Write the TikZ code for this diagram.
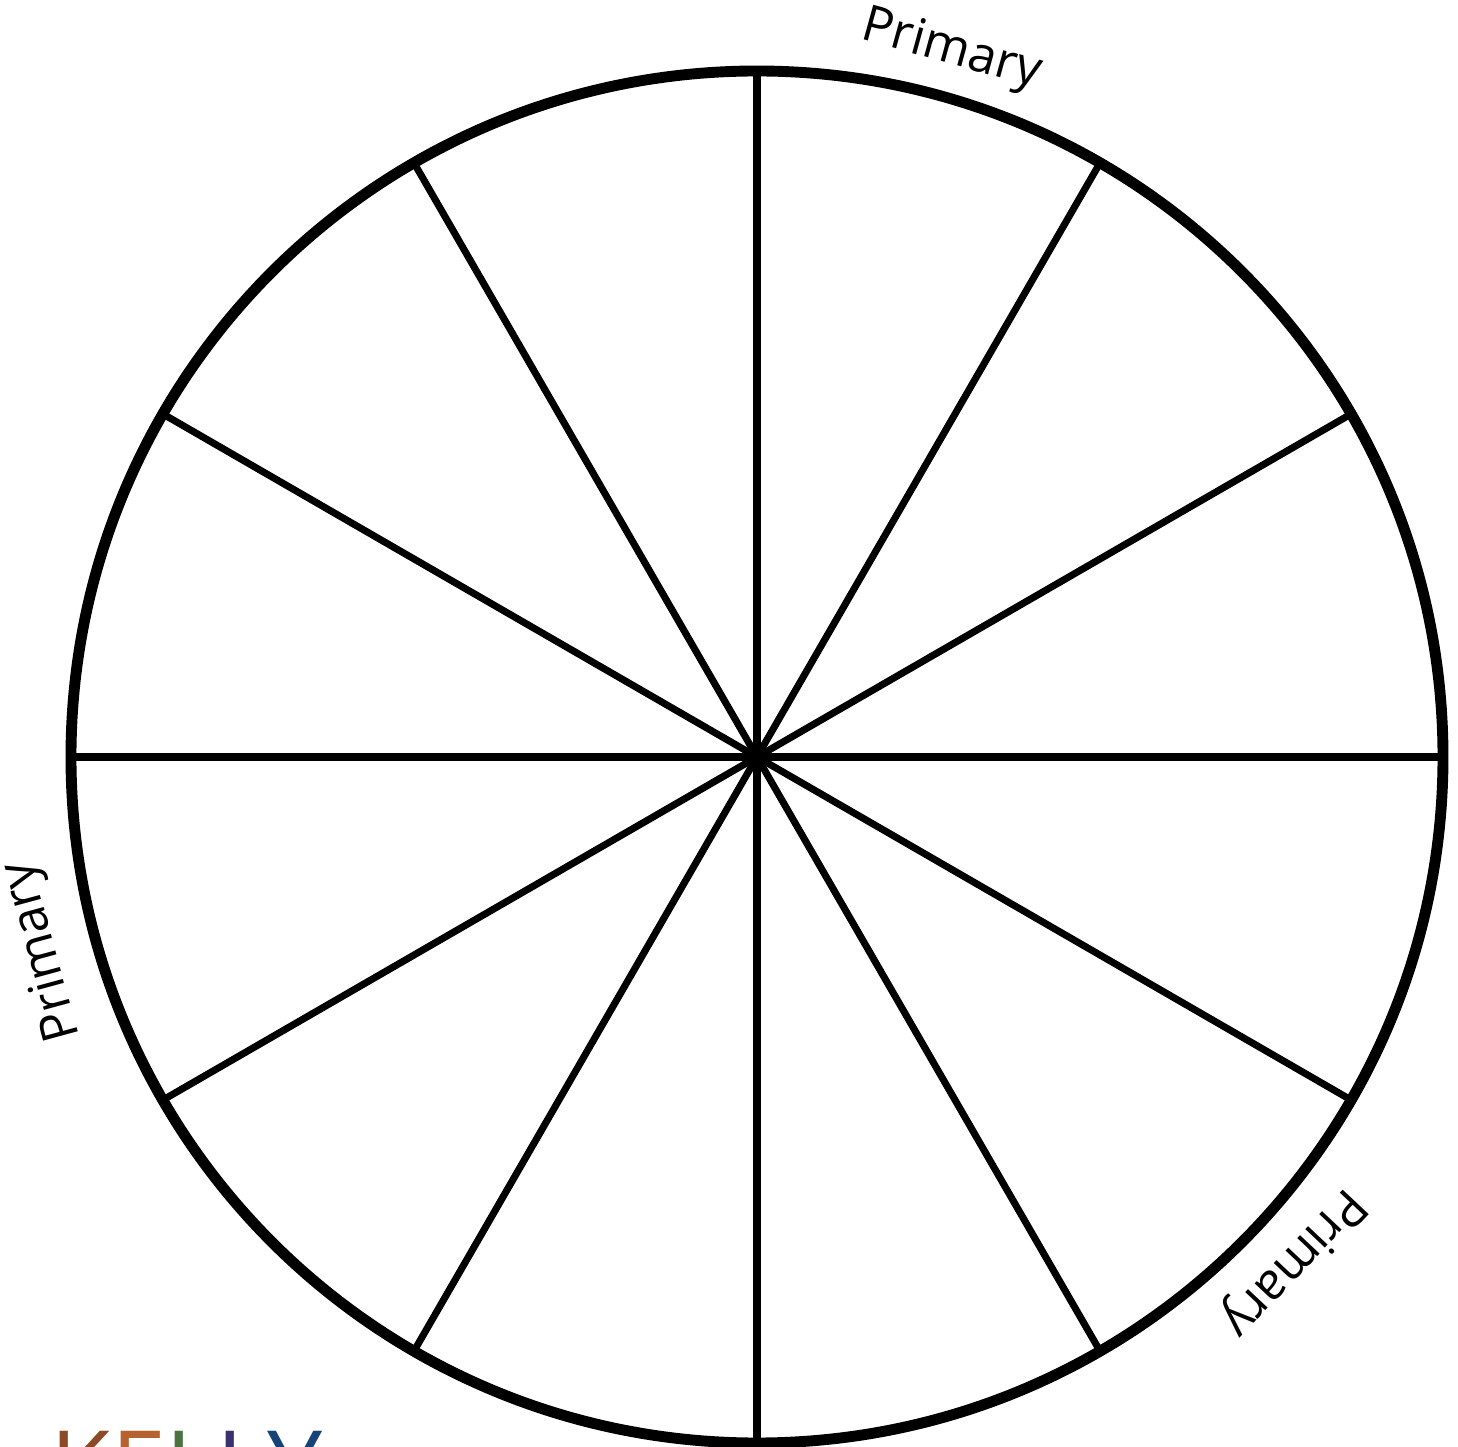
\documentclass[tikz,border=0pt]{standalone}
\usepackage{fontspec}
\setmainfont{Open Sans}
\usepackage{tkz-euclide}
\definecolor{KellyBrown}{RGB}{139,74,37}
\definecolor{KellyOrange}{RGB}{181,98,47}
\definecolor{KellyGreen}{RGB}{74,115,64}
\definecolor{KellyPurple}{RGB}{57,50,110}
\definecolor{KellyBlue}{RGB}{22,68,120}
\tikzset{primlabel/.style={font=\fontsize{14.3}{17}\selectfont,inner sep=0pt}}

\begin{document}
\begin{tikzpicture}
\useasboundingbox (-7.57,-6.90) rectangle (7.01,7.57);
\tkzSetUpLine[line width=2pt,color=black]

\tkzDefPoints{0/0/O,6.86/0/P1}

\tkzDefShiftPoint[O](30:6.86){P2}
\tkzDefShiftPoint[O](60:6.86){P3}
\tkzDefShiftPoint[O](90:6.86){P4}
\tkzDefShiftPoint[O](120:6.86){P5}
\tkzDefShiftPoint[O](150:6.86){P6}
\tkzDefShiftPoint[O](180:6.86){P7}
\tkzDefShiftPoint[O](210:6.86){P8}
\tkzDefShiftPoint[O](240:6.86){P9}
\tkzDefShiftPoint[O](270:6.86){P10}
\tkzDefShiftPoint[O](300:6.86){P11}
\tkzDefShiftPoint[O](330:6.86){P12}

\tkzDrawSegments(O,P1 O,P2 O,P3 O,P4 O,P5 O,P6 O,P7 O,P8 O,P9 O,P10 O,P11 O,P12)
\tkzDrawCircle[line width=3.1pt,color=black](O,P1)

\node[primlabel,rotate=-15.4] (prim1) at (74.6:7.32) {Primary};
\node[primlabel,rotate=105.2] (prim2) at (195.2:7.40) {Primary};
\node[primlabel,rotate=226.7] (prim3) at (316.7:7.36) {Primary};

\node[anchor=base west,inner sep=0pt,font=\fontsize{28}{32}\selectfont] (logo) at (-7.07,-7.44)
  {\textcolor{KellyBrown}{K}\textcolor{KellyOrange}{E}\textcolor{KellyGreen}{L}\textcolor{KellyPurple}{L}\textcolor{KellyBlue}{Y}};

\end{tikzpicture}
\end{document}
